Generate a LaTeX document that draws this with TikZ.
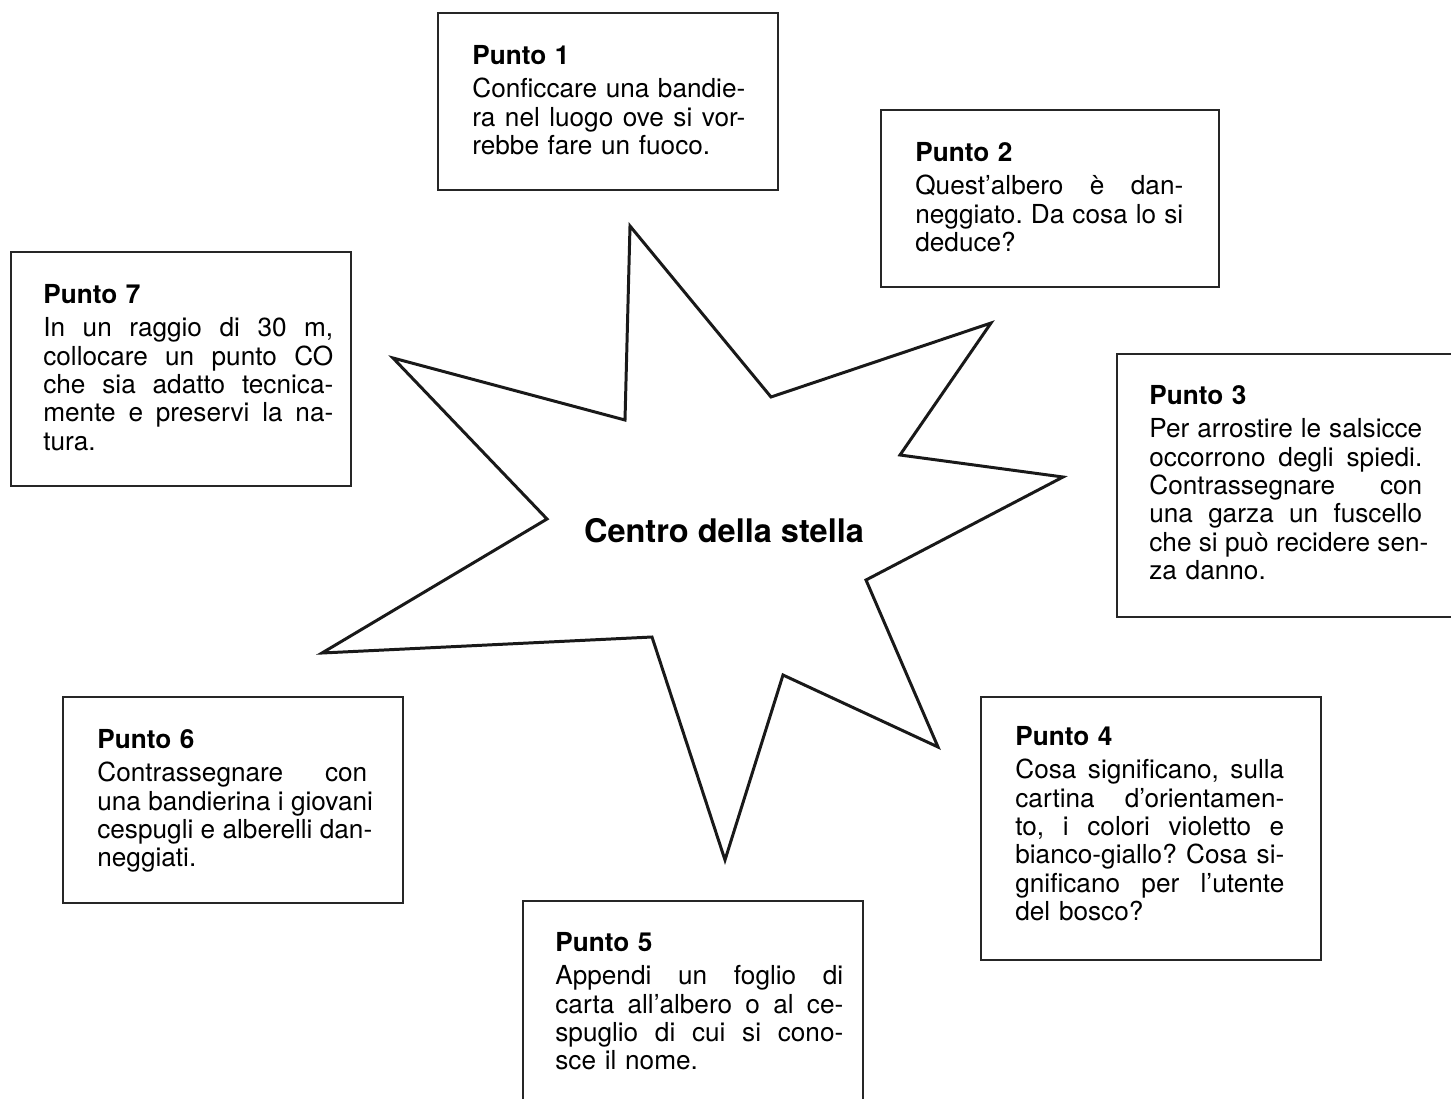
\documentclass[tikz,border=0pt]{standalone}
\usepackage{fontspec}
\setmainfont{TeX Gyre Heros}
\newlength{\larg}
\newcommand{\riga}[1]{\leavevmode\hbox to \larg{\spaceskip=0.28em plus 1fil\relax #1}\\}
\tikzset{
  cornice/.style={draw=black!85, line width=0.9pt},
  stella/.style={draw=black!90, line width=1.7pt, line join=miter},
  larg/.code={\global\larg=#1\relax},
  testo/.style={anchor=base west, inner sep=0pt, text width=#1, larg=#1,
    font=\fontsize{14.9}{16.1}\selectfont\frenchspacing},
  titolo/.style={anchor=base, inner sep=0pt,
    font=\fontsize{18.5}{20}\selectfont\bfseries}
}

\begin{document}
\begin{tikzpicture}[x=0.02cm, y=-0.02cm]
	%%%%% START %%%%%
	\useasboundingbox (0,0) rectangle (1451,1099);

	% stella a sette punte
	\draw[stella] (630,226) -- (771,397) -- (991,323) -- (900,455) -- (1063,477)
		-- (866,580) -- (938,747) -- (783,675) -- (725,860) -- (652,637)
		-- (322,653) -- (547,519) -- (393,358) -- (625,420) -- cycle;
	\node[titolo] (centro) at (724,542) {Centro della stella};

	% Punto 1
	\draw[cornice] (438,13) rectangle (778,190);
	\node[testo=5.46cm] (p1) at (472,64) {\textbf{Punto 1}\\[3.2pt]
		\riga{Conficcare una bandie-}
		\riga{ra nel luogo ove si vor-}
		rebbe fare un fuoco.};

	% Punto 2
	\draw[cornice] (881,110) rectangle (1219,287);
	\node[testo=5.36cm] (p2) at (915,161) {\textbf{Punto 2}\\[3.2pt]
		\riga{Quest’albero è dan-}
		\riga{neggiato. Da cosa lo si}
		deduce?};

	% Punto 3
	\draw[cornice] (1117,354) rectangle (1470,617);
	\node[testo=5.46cm] (p3) at (1149,404) {\textbf{Punto 3}\\[3.2pt]
		\riga{Per arrostire le salsicce}
		\riga{occorrono degli spiedi.}
		\riga{Contrassegnare con}
		\riga{una garza un fuscello}
		\riga{che si può recidere sen-}
		za danno.};

	% Punto 4
	\draw[cornice] (981,697) rectangle (1321,960);
	\node[testo=5.38cm] (p4) at (1015,745) {\textbf{Punto 4}\\[3.2pt]
		\riga{Cosa significano, sulla}
		\riga{cartina d’orientamen-}
		\riga{to, i colori violetto e}
		\riga{bianco-giallo? Cosa si-}
		\riga{gnificano per l’utente}
		del bosco?};

	% Punto 5
	\draw[cornice] (523,901) rectangle (863,1120);
	\node[testo=5.76cm] (p5) at (555,951) {\textbf{Punto 5}\\[3.2pt]
		\riga{Appendi un foglio di}
		\riga{carta all’albero o al ce-}
		\riga{spuglio di cui si cono-}
		sce il nome.};

	% Punto 6
	\draw[cornice] (63,697) rectangle (403,903);
	\node[testo=5.40cm] (p6) at (97,748) {\textbf{Punto 6}\\[3.2pt]
		\riga{Contrassegnare con}
		\riga{una bandierina i giovani}
		\riga{cespugli e alberelli dan-}
		neggiati.};

	% Punto 7
	\draw[cornice] (11,252) rectangle (351,486);
	\node[testo=5.80cm] (p7) at (43,303) {\textbf{Punto 7}\\[3.2pt]
		\riga{In un raggio di 30 m,}
		\riga{collocare un punto CO}
		\riga{che sia adatto tecnica-}
		\riga{mente e preservi la na-}
		tura.};
	%%%%% END %%%%%
\end{tikzpicture}
\end{document}
